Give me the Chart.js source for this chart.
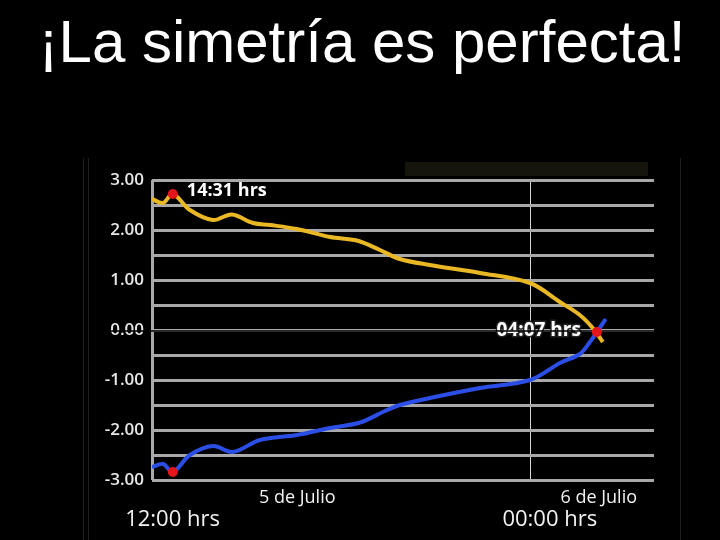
<!DOCTYPE html>
<html>
<head>
<meta charset="utf-8">
<style>
  html, body { margin: 0; padding: 0; background: #000; }
  #wrap { width: 720px; height: 540px; }
</style>
<script src="https://cdn.jsdelivr.net/npm/chart.js@4.4.0/dist/chart.umd.min.js"></script>
</head>
<body>
<div id="wrap"><canvas id="chart" width="720" height="540"></canvas></div>
<script>
// Tiempo en horas desde las 12:00 del 5 de julio (12 = medianoche)
const yellowT = [0, 0.35, 0.66, 1.20, 1.93, 2.53, 3.20, 3.74, 4.59, 5.64, 6.49, 7.22, 7.85, 8.80, 10.39, 11.97, 12.92, 13.55, 13.96, 14.28];
const yellowY = [2.62, 2.54, 2.72, 2.40, 2.20, 2.31, 2.14, 2.10, 2.02, 1.86, 1.79, 1.60, 1.42, 1.30, 1.14, 0.94, 0.56, 0.30, 0.04, -0.24];

const blueT = [0, 0.35, 0.66, 1.20, 1.93, 2.56, 3.42, 4.59, 5.64, 6.59, 7.38, 7.85, 8.80, 10.39, 11.97, 12.92, 13.55, 13.87, 14.09, 14.37];
const blueY = [-2.74, -2.68, -2.84, -2.50, -2.32, -2.44, -2.20, -2.10, -1.96, -1.85, -1.62, -1.50, -1.36, -1.16, -1.00, -0.66, -0.48, -0.24, -0.04, 0.22];

// Puntos rojos: máximo/mínimo a las 14:31 y cruce a las 04:07
const dotT = [0.66, 0.66, 14.09];
const dotY = [2.72, -2.84, -0.04];

const titulo = '¡La simetría es perfecta!';
const xTicks = [0, 12];
const xLabels = [
  { t: 0.65, text: '12:00 hrs', row: 2 },
  { t: 4.6, text: '5 de Julio', row: 1 },
  { t: 12.6, text: '00:00 hrs', row: 2 },
  { t: 14.15, text: '6 de Julio', row: 1 }
];

function toPoints(ts, ys) {
  return ts.map((t, i) => ({ x: t, y: ys[i] }));
}

// Plugin para el título, los textos y detalles del panel
const decoPlugin = {
  id: 'deco',
  beforeDraw(chart) {
    const ctx = chart.ctx;
    ctx.save();
    ctx.fillStyle = '#000';
    ctx.fillRect(0, 0, chart.width, chart.height);
    // título (dibujado aquí para que no lo comprima el padding)
    ctx.fillStyle = '#ffffff';
    ctx.font = '60px "Liberation Sans", Arial';
    ctx.textAlign = 'center';
    ctx.textBaseline = 'alphabetic';
    ctx.fillText(titulo, 362, 62);
    // bordes tenues del panel
    ctx.strokeStyle = '#1e1e1e';
    ctx.lineWidth = 1;
    [83.5, 88.5, 680.5].forEach(x => {
      ctx.beginPath();
      ctx.moveTo(x, 158);
      ctx.lineTo(x, 540);
      ctx.stroke();
    });
    // barra oscura arriba a la derecha
    ctx.fillStyle = '#15150b';
    ctx.fillRect(405, 162, 243, 14);
    ctx.restore();
  },
  beforeDatasetsDraw(chart) {
    const ctx = chart.ctx;
    const xs = chart.scales.x;
    const ys = chart.scales.y;
    ctx.save();
    ctx.fillStyle = '#f2f2f2';
    ctx.textAlign = 'center';
    ctx.textBaseline = 'middle';
    xLabels.forEach(l => {
      ctx.font = l.row === 1 ? '18px "Open Sans"' : '22px "Open Sans"';
      ctx.fillText(l.text, xs.getPixelForValue(l.t), l.row === 1 ? 498 : 520);
    });

    ctx.font = 'bold 18px "Open Sans"';
    ctx.textAlign = 'left';
    ctx.fillStyle = '#ffffff';
    ctx.fillText('14:31 hrs', xs.getPixelForValue(dotT[0]) + 14, ys.getPixelForValue(2.78));

    ctx.textAlign = 'right';
    ctx.font = 'bold 19px "Open Sans"';
    ctx.lineWidth = 3;
    ctx.strokeStyle = '#222';
    const x2 = xs.getPixelForValue(dotT[2]) - 16;
    const y2 = ys.getPixelForValue(0) + 1;
    ctx.strokeText('04:07 hrs', x2, y2);
    ctx.fillText('04:07 hrs', x2, y2);

    // línea negra sobre el cero
    ctx.strokeStyle = '#000';
    ctx.lineWidth = 1.5;
    ctx.beginPath();
    ctx.moveTo(100, y2);
    ctx.lineTo(xs.right + 2, y2);
    ctx.stroke();
    ctx.restore();
  }
};

new Chart(document.getElementById('chart'), {
  type: 'line',
  data: {
    datasets: [
      {
        type: 'scatter',
        data: toPoints(dotT, dotY),
        pointRadius: 5,
        pointBackgroundColor: '#e3161b',
        pointBorderWidth: 0,
        showLine: false
      },
      {
        data: toPoints(yellowT, yellowY),
        borderColor: '#e9b824',
        borderWidth: 4,
        pointRadius: 0,
        tension: 0.35
      },
      {
        data: toPoints(blueT, blueY),
        borderColor: '#2b4fe6',
        borderWidth: 4,
        pointRadius: 0,
        tension: 0.35
      }
    ]
  },
  options: {
    responsive: false,
    animation: false,
    layout: { padding: { top: 180, left: 82, right: 66, bottom: 60 } },
    plugins: {
      legend: { display: false },
      tooltip: { enabled: false },
      title: { display: false }
    },
    scales: {
      x: {
        type: 'linear',
        min: 0,
        max: 15.9,
        afterBuildTicks(scale) {
          scale.ticks = xTicks.map(v => ({ value: v }));
        },
        ticks: { display: false },
        border: { display: false },
        grid: {
          drawTicks: false,
          color: ctx => ctx.tick.value === 0 ? '#a8a8a8' : '#d8d8d8',
          lineWidth: ctx => ctx.tick.value === 0 ? 3 : 1
        }
      },
      y: {
        min: -3,
        max: 3,
        afterFit(scale) { scale.width = 70; },
        ticks: {
          stepSize: 0.5,
          padding: 8,
          color: '#e8e8e8',
          font: { family: '"Open Sans"', size: 17, weight: '600' },
          callback: v => (v % 1 === 0 ? v.toFixed(2) : '')
        },
        border: { display: false },
        grid: { drawTicks: false, color: '#a8a8a8', lineWidth: 3 }
      }
    }
  },
  plugins: [decoPlugin]
});
</script>
</body>
</html>
